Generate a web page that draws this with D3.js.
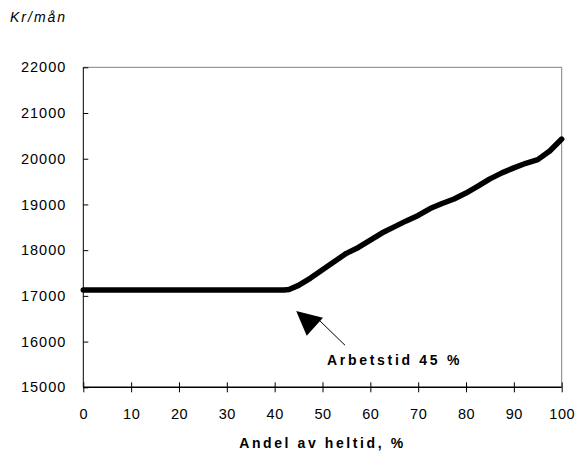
<!DOCTYPE html>
<html><head><meta charset="utf-8">
<script src="https://cdn.jsdelivr.net/npm/d3@7"></script>
<style>body{margin:0;background:#fff;} svg{display:block;font-family:"Liberation Sans",Arial,sans-serif;}</style>
</head><body>
<svg id="c" width="576" height="455"></svg>
<script>
const xValues = [0, 42, 43, 45, 47.5, 50, 52.5, 55, 57.5, 60, 62.5, 65, 67.5, 70, 72.5, 75, 77.5, 80, 82.5, 85, 87.5, 90, 92.5, 95, 97.5, 100];
const yValues = [17130, 17130, 17140, 17230, 17390, 17570, 17750, 17930, 18060, 18220, 18380, 18510, 18640, 18760, 18910, 19020, 19120, 19250, 19400, 19560, 19690, 19800, 19900, 19980, 20170, 20430];
const xTicks = [0,10,20,30,40,50,60,70,80,90,100];
const yTicks = [15000,16000,17000,18000,19000,20000,21000,22000];
const yUnit = "Kr/mån";
const xTitle = "Andel av heltid, %";
const annotation = "Arbetstid 45 %";

const svg = d3.select("#c");
const L = 83.3, R = 561.7, T = 67.3, B = 387.3;
const x = d3.scaleLinear().domain([0,100]).range([L,R]);
const y = d3.scaleLinear().domain([15000,22000]).range([B,T]);

// plot border (top/right gray)
svg.append("path").attr("d",`M${L},${T}H${R}V${B}`).attr("fill","none").attr("stroke","#808080").attr("stroke-width",1);

// y axis
const ya = svg.append("g").attr("transform",`translate(${L},0)`)
  .call(d3.axisLeft(y).tickValues(yTicks).tickSize(-5).tickPadding(17).tickFormat(d3.format("d")));
ya.select(".domain").remove();
ya.selectAll("line").attr("stroke","#000");
ya.append("line").attr("x1",0).attr("x2",0).attr("y1",T).attr("y2",B).attr("stroke","#000");
ya.selectAll("text").attr("font-size",14.5).attr("fill","#000").attr("letter-spacing","1px");

// x axis
const xa = svg.append("g").attr("transform",`translate(0,${B})`)
  .call(d3.axisBottom(x).tickValues(xTicks).tickSize(5).tickPadding(16).tickFormat(d3.format("d")));
xa.select(".domain").remove();
xa.selectAll(".tick line").attr("y1",-5).attr("stroke","#000");
xa.append("line").attr("x1",L).attr("x2",R).attr("stroke","#000").attr("stroke-width",1.5);
xa.selectAll("text").attr("font-size",14.5).attr("fill","#000").attr("letter-spacing","0.5px");

// line
const data = xValues.map((v,i)=>[v,yValues[i]]);
svg.append("path").datum(data)
  .attr("d", d3.line().x(d=>x(d[0])).y(d=>y(d[1])))
  .attr("fill","none").attr("stroke","#000").attr("stroke-width",5.5)
  .attr("stroke-linejoin","round").attr("stroke-linecap","round");

// titles
svg.append("text").attr("x",10).attr("y",22).attr("font-size",14).attr("font-style","italic")
  .attr("letter-spacing","2px").text(yUnit);
svg.append("text").attr("x",(L+R)/2).attr("y",448).attr("text-anchor","middle")
  .attr("font-size",14).attr("font-weight","bold").attr("letter-spacing","2.6px").text(xTitle);

// annotation arrow
const tip = [x(44.5), y(16670)];
svg.append("line").attr("x1",x(48.9)).attr("y1",y(16510)).attr("x2",x(54.7)).attr("y2",y(15920))
  .attr("stroke","#000").attr("stroke-width",1);
svg.append("path")
  .attr("d",`M${tip[0]},${tip[1]}L${x(46.7)},${y(16130)}L${x(50.1)},${y(16520)}Z`)
  .attr("fill","#000");
svg.append("text").attr("x",327).attr("y",365).attr("font-size",14).attr("font-weight","bold")
  .attr("letter-spacing","2.7px").text(annotation);
</script>
</body></html>
